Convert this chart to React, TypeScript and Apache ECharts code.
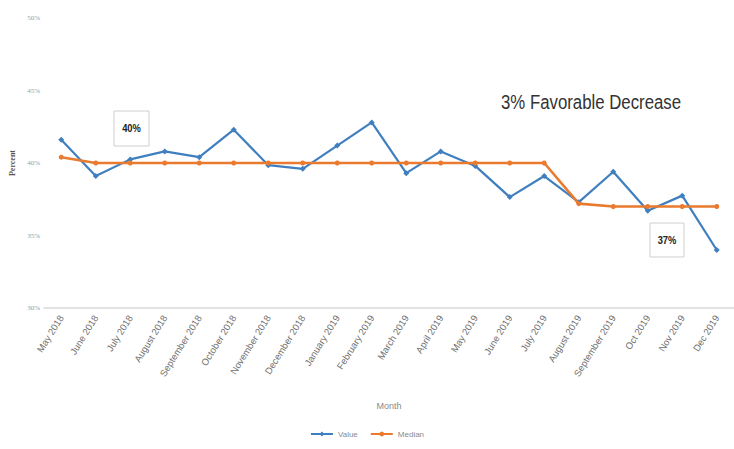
import React, { useEffect, useRef } from "react";
import * as echarts from "echarts";

const months = [
  "May 2018", "June 2018", "July 2018", "August 2018", "September 2018",
  "October 2018", "November 2018", "December 2018", "January 2019", "February 2019",
  "March 2019", "April 2019", "May 2019", "June 2019", "July 2019",
  "August 2019", "September 2019", "Oct 2019", "Nov 2019", "Dec 2019",
];
const valueSeries = [
  41.6, 39.1, 40.25, 40.8, 40.4, 42.3, 39.85, 39.6, 41.2, 42.8,
  39.3, 40.8, 39.8, 37.65, 39.1, 37.3, 39.4, 36.7, 37.75, 34.0,
];
const medianSeries = [
  40.4, 40, 40, 40, 40, 40, 40, 40, 40, 40,
  40, 40, 40, 40, 40, 37.2, 37.0, 37.0, 37.0, 37.0,
];
const yTicks = { min: 30, max: 50, interval: 5 };
const titleText = "3% Favorable Decrease";
const annotationBefore = "40%";
const annotationAfter = "37%";

export default function App() {
  const ref = useRef<HTMLDivElement>(null);
  useEffect(() => {
    if (!ref.current) return;
    const chart = echarts.init(ref.current, null, { renderer: "svg" });
    const boxStyle = { fill: "#fff", stroke: "#cfcfcf", lineWidth: 1 };
    const annText = (text: string, cx: number, cy: number) => ({
      type: "text",
      x: cx,
      y: cy,
      scaleX: 0.85,
      style: {
        text,
        fontSize: 11,
        fontWeight: "bold",
        fill: "#222",
        align: "center",
        verticalAlign: "middle",
        fontFamily: "Liberation Sans, sans-serif",
      },
    });
    chart.setOption({
      animation: false,
      backgroundColor: "#fff",
      textStyle: { fontFamily: "Liberation Sans, sans-serif" },
      grid: { left: 42, right: -3, top: 18, bottom: 141 },
      legend: {
        bottom: 6,
        left: "center",
        itemWidth: 22,
        itemHeight: 6,
        itemGap: 12,
        textStyle: { fontSize: 8, color: "#8a8a8a" },
        data: ["Value", "Median"],
      },
      xAxis: {
        type: "category",
        data: months,
        boundaryGap: true,
        name: "Month",
        nameLocation: "middle",
        nameGap: 93,
        nameTextStyle: { fontSize: 9, color: "#8a8a8a" },
        axisLine: { lineStyle: { color: "#d9d9d9", width: 1.5 } },
        axisTick: { show: false },
        axisLabel: {
          rotate: 58,
          fontSize: 9.5,
          color: "#6f6f6f",
          interval: 0,
          margin: 8,
          fontFamily: "Liberation Sans, sans-serif",
        },
      },
      yAxis: {
        type: "value",
        min: yTicks.min,
        max: yTicks.max,
        interval: yTicks.interval,
        name: "Percent",
        nameLocation: "middle",
        nameGap: 28,
        nameRotate: 90,
        nameTextStyle: { fontSize: 8, color: "#555", fontWeight: "bold", fontFamily: "Liberation Serif, serif" },
        axisLine: { show: false },
        axisTick: { show: false },
        splitLine: { show: false },
        axisLabel: {
          formatter: "{value}%",
          fontSize: 7,
          color: "#9a9a9a",
          margin: 4,
          fontFamily: "Liberation Serif, serif",
        },
      },
      series: [
        {
          name: "Value",
          type: "line",
          data: valueSeries,
          symbol: "diamond",
          symbolSize: 6,
          lineStyle: { color: "#3f7fbf", width: 2.2 },
          itemStyle: { color: "#3f7fbf" },
          z: 2,
        },
        {
          name: "Median",
          type: "line",
          data: medianSeries,
          symbol: "circle",
          symbolSize: 5,
          lineStyle: { color: "#ea7a2e", width: 2.6 },
          itemStyle: { color: "#ea7a2e" },
          z: 3,
        },
      ],
      graphic: [
        {
          type: "text",
          x: 501,
          y: 91,
          scaleX: 0.8,
          style: {
            text: titleText,
            fontSize: 21,
            fill: "#333",
            fontFamily: "Liberation Sans, sans-serif",
          },
        },
        {
          type: "group",
          x: 114,
          y: 111,
          children: [
            { type: "rect", shape: { x: 0, y: 0, width: 35, height: 35 }, style: boxStyle },
            annText(annotationBefore, 17.5, 17.5),
          ],
        },
        {
          type: "group",
          x: 650,
          y: 223,
          children: [
            { type: "rect", shape: { x: 0, y: 0, width: 34, height: 34 }, style: boxStyle },
            annText(annotationAfter, 17, 17),
          ],
        },
      ],
    });
    return () => chart.dispose();
  }, []);
  return (
    <div
      ref={ref}
      style={{ position: "absolute", left: 0, top: 0, width: 734, height: 449 }}
    />
  );
}
